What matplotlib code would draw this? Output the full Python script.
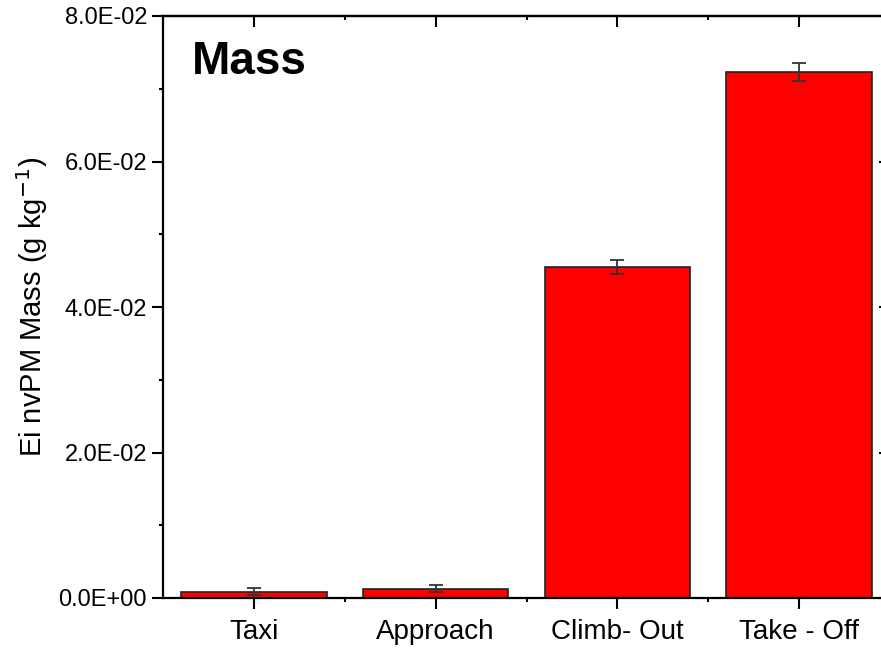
import matplotlib
matplotlib.use("Agg")
import matplotlib.pyplot as plt
from matplotlib.ticker import MultipleLocator, FixedLocator, FuncFormatter
import numpy as np

plt.rcParams['font.family'] = ['Liberation Sans', 'DejaVu Sans']

# data
phases = ["Taxi", "Approach", "Climb- Out", "Take - Off"]
ei_mass = [0.00087, 0.00128, 0.0455, 0.0723]
ei_err = [0.0005, 0.0005, 0.0010, 0.0012]

fig = plt.figure(figsize=(8.81, 6.48), dpi=100)
ax = fig.add_axes([163 / 881, 1 - 598 / 648, (890 - 163) / 881, (598 - 16) / 648])

x = np.arange(1, len(phases) + 1)
ax.bar(x, ei_mass, width=0.8, color="#ff0000", edgecolor="#222222", linewidth=1.2, zorder=2)
ax.errorbar(x, ei_mass, yerr=ei_err, fmt="none", ecolor="#333333",
            elinewidth=1.3, capsize=5, capthick=1.3, zorder=3)

ax.set_xlim(0.5, 4.5)
ax.set_ylim(0, 0.08)
ax.set_xticks(x)
ax.set_xticklabels(phases, fontsize=20)
ax.xaxis.set_minor_locator(FixedLocator([1.5, 2.5, 3.5]))
ax.yaxis.set_major_locator(MultipleLocator(0.02))
ax.yaxis.set_minor_locator(MultipleLocator(0.01))
ax.yaxis.set_major_formatter(FuncFormatter(lambda v, p: "%.1E" % v))
ax.tick_params(axis="y", labelsize=17)

for s in ax.spines.values():
    s.set_linewidth(1.6)
ax.tick_params(which="major", length=8, width=1.5)
ax.tick_params(which="minor", length=3, width=1.5)
ax.tick_params(axis="x", which="major", pad=7)
ax.tick_params(top=False, right=False, which="both", direction="out")

# top and right ticks point inwards in the reference
sec_x = ax.secondary_xaxis("top")
sec_x.set_xticks(x)
sec_x.xaxis.set_minor_locator(FixedLocator([1.5, 2.5, 3.5]))
sec_x.tick_params(which="major", direction="in", length=8, width=1.5, labeltop=False)
sec_x.tick_params(which="minor", direction="in", length=3, width=1.5)
sec_x.spines["top"].set_linewidth(1.6)
sec_y = ax.secondary_yaxis("right")
sec_y.yaxis.set_major_locator(MultipleLocator(0.02))
sec_y.yaxis.set_minor_locator(MultipleLocator(0.01))
sec_y.tick_params(which="major", direction="in", length=8, width=1.5, labelright=False)
sec_y.tick_params(which="minor", direction="in", length=3, width=1.5)

ax.set_ylabel("Ei nvPM Mass (g kg$^{-1}$)", fontsize=21, labelpad=6)
ax.text(0.04, 0.958, "Mass", transform=ax.transAxes, fontsize=33,
        fontweight="bold", va="top", ha="left")

fig.savefig("out.png", dpi=100)
